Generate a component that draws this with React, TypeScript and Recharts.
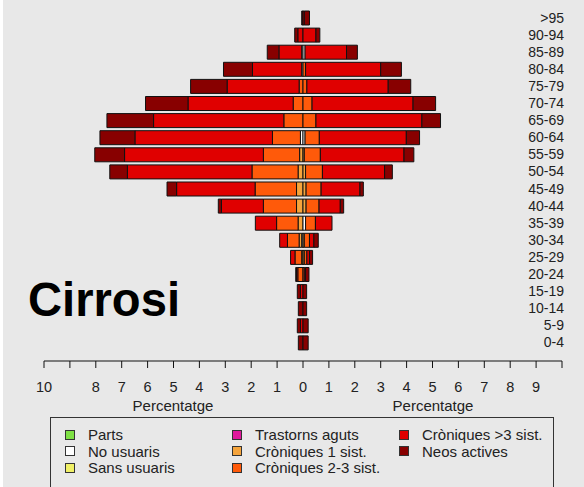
import React from "react";
import { BarChart, Bar, XAxis, YAxis, Legend } from "recharts";

// age groups, top to bottom
const ages = [">95", "90-94", "85-89", "80-84", "75-79", "70-74", "65-69", "60-64", "55-59", "50-54", "45-49", "40-44", "35-39", "30-34", "25-29", "20-24", "15-19", "10-14", "5-9", "0-4"];

const seriesKeys = ["parts", "noUsuaris", "sansUsuaris", "trastorns", "cron1", "cron23", "cron3", "neos"];
const seriesNames = ["Parts", "No usuaris", "Sans usuaris", "Trastorns aguts", "Cròniques 1 sist.", "Cròniques 2-3 sist.", "Cròniques >3 sist.", "Neos actives"];
const seriesColors = ["#7ee044", "#ffffff", "#f0f066", "#e0189c", "#f5a43c", "#ff5a0a", "#e00000", "#880000"];

// left side (percent), from the centre outwards
const leftParts = [0, 0, 0, 0, 0, 0, 0, 0, 0, 0, 0, 0, 0, 0, 0, 0, 0, 0, 0, 0];
const leftNoUsuaris = [0, 0, 0.05, 0.05, 0, 0, 0, 0.1, 0, 0, 0, 0, 0, 0.05, 0, 0, 0, 0, 0, 0];
const leftSansUsuaris = [0, 0, 0, 0, 0, 0, 0, 0, 0, 0, 0, 0, 0, 0, 0, 0, 0, 0, 0, 0];
const leftTrastorns = [0, 0, 0, 0, 0, 0, 0, 0, 0, 0, 0, 0, 0, 0, 0, 0, 0, 0, 0, 0];
const leftCron1 = [0, 0, 0, 0, 0, 0, 0, 0, 0.13, 0.19, 0.25, 0.25, 0.19, 0.1, 0.05, 0, 0, 0, 0, 0];
const leftCron23 = [0, 0, 0, 0, 0.15, 0.38, 0.74, 1.08, 1.4, 1.78, 1.6, 1.28, 0.83, 0.45, 0.26, 0.2, 0, 0, 0, 0];
const leftCron3 = [0, 0.2, 0.88, 1.9, 2.78, 4.06, 5.03, 5.31, 5.36, 4.81, 3.03, 1.62, 0.82, 0.3, 0.17, 0.05, 0.1, 0, 0.1, 0];
const leftNeos = [0.05, 0.12, 0.45, 1.12, 1.41, 1.64, 1.8, 1.35, 1.15, 0.68, 0.37, 0.12, 0, 0, 0, 0.03, 0.12, 0.18, 0.12, 0.18];

// right side (percent), from the centre outwards
const rightParts = [0, 0, 0, 0, 0, 0, 0, 0, 0, 0, 0, 0, 0, 0, 0, 0, 0, 0, 0, 0];
const rightNoUsuaris = [0, 0, 0.08, 0, 0, 0, 0, 0.08, 0, 0, 0, 0, 0.1, 0, 0, 0, 0, 0, 0, 0];
const rightSansUsuaris = [0, 0, 0, 0, 0, 0, 0, 0, 0, 0, 0, 0, 0, 0, 0, 0, 0, 0, 0, 0];
const rightTrastorns = [0, 0, 0, 0, 0, 0, 0, 0, 0, 0, 0, 0, 0, 0, 0, 0, 0, 0, 0, 0];
const rightCron1 = [0, 0, 0, 0, 0, 0, 0, 0, 0.05, 0.1, 0.12, 0.12, 0, 0.05, 0.05, 0, 0, 0, 0, 0];
const rightCron23 = [0, 0, 0, 0.1, 0.15, 0.35, 0.5, 0.55, 0.62, 0.65, 0.58, 0.5, 0.38, 0.2, 0.1, 0.05, 0, 0, 0, 0];
const rightCron3 = [0.05, 0.5, 1.6, 2.9, 3.14, 3.9, 4.09, 3.36, 3.23, 2.4, 1.5, 0.82, 0.64, 0.17, 0.1, 0.05, 0, 0, 0, 0];
const rightNeos = [0.2, 0.15, 0.42, 0.8, 0.87, 0.87, 0.72, 0.51, 0.38, 0.3, 0.13, 0.13, 0, 0.17, 0.12, 0.13, 0.14, 0.14, 0.2, 0.2];

const xTicks = [-10, -9, -8, -7, -6, -5, -4, -3, -2, -1, 0, 1, 2, 3, 4, 5, 6, 7, 8, 9, 10];
const xTickLabels = ["10", "", "8", "7", "6", "5", "4", "3", "2", "1", "0", "1", "2", "3", "4", "5", "6", "7", "8", "9", ""];

const leftSeries = [leftParts, leftNoUsuaris, leftSansUsuaris, leftTrastorns, leftCron1, leftCron23, leftCron3, leftNeos];
const rightSeries = [rightParts, rightNoUsuaris, rightSansUsuaris, rightTrastorns, rightCron1, rightCron23, rightCron3, rightNeos];

const data = ages.map((age, i) => {
  const row: Record<string, string | number> = { age };
  seriesKeys.forEach((k, s) => {
    row["L_" + k] = -leftSeries[s][i];
    row["R_" + k] = rightSeries[s][i];
  });
  return row;
});

const FONT = "'Liberation Sans', Arial, sans-serif";

const AgeTick = (props: any) => (
  <text x={564} y={props.y} textAnchor="end" dominantBaseline="central" fontSize={14} fontFamily={FONT} fill="#222">
    {props.payload.value}
  </text>
);

const LegendBox = () => {
  const cols = [0, 1, 2].map((c) => seriesNames.map((n, i) => ({ n, i })).slice(c * 3, c * 3 + 3));
  const colX = [14, 181, 348];
  return (
    <div style={{ position: "relative", width: 504, height: 80, border: "1px solid #333", boxSizing: "border-box", fontFamily: FONT, fontSize: 15, color: "#222" }}>
      {cols.map((items, c) =>
        items.map(({ n, i }, r) => (
          <div key={n} style={{ position: "absolute", left: colX[c], top: 8 + r * 16.5, height: 17, display: "flex", alignItems: "center", whiteSpace: "nowrap" }}>
            <span style={{ display: "inline-block", width: 8, height: 8, background: seriesColors[i], border: "1px solid #333", marginRight: 13 }} />
            {n}
          </div>
        ))
      )}
    </div>
  );
};

export default function App() {
  return (
    <div style={{ position: "absolute", left: 0, top: 0, width: 584, height: 487, background: "#e8e8e8", overflow: "hidden" }}>
      <div style={{ position: "absolute", left: 0, top: 0, width: 3, height: 487, background: "#fff" }} />
      <BarChart
        width={584}
        height={487}
        data={data}
        layout="vertical"
        stackOffset="sign"
        barSize={14}
        margin={{ top: 9, right: 0, left: 44, bottom: 86 }}
      >
        <XAxis
          type="number"
          domain={[-10, 10]}
          ticks={xTicks}
          interval={0}
          height={40}
          tickSize={7}
          tickMargin={14}
          tickFormatter={(v: number) => xTickLabels[v + 10]}
          axisLine={{ stroke: "#111" }}
          tickLine={{ stroke: "#111" }}
          tick={{ fill: "#222", fontSize: 14.5, fontFamily: FONT }}
        />
        <YAxis
          type="category"
          dataKey="age"
          orientation="right"
          width={22}
          interval={0}
          axisLine={false}
          tickLine={false}
          padding={{ top: 0, bottom: 10 }}
          tick={<AgeTick />}
        />
        <Legend
          layout="horizontal"
          verticalAlign="middle"
          align="center"
          content={<LegendBox />}
          wrapperStyle={{ position: "absolute", left: 50, top: 417, width: 504 }}
        />
        {seriesKeys.map((k, s) => (
          <Bar key={"L_" + k} dataKey={"L_" + k} stackId="a" fill={seriesColors[s]} stroke="#111" strokeWidth={1} isAnimationActive={false} legendType="none" />
        ))}
        {seriesKeys.map((k, s) => (
          <Bar key={"R_" + k} dataKey={"R_" + k} stackId="a" fill={seriesColors[s]} stroke="#111" strokeWidth={1} isAnimationActive={false} legendType="none" />
        ))}
      </BarChart>
      <svg width={584} height={487} style={{ position: "absolute", left: 0, top: 0, pointerEvents: "none" }}>
        <text x={28} y={316} fontSize={48} fontWeight="bold" fontFamily={FONT} fill="#000" textLength={152} lengthAdjust="spacingAndGlyphs">
          Cirrosi
        </text>
        <text x={173} y={405} textAnchor="middle" dominantBaseline="central" fontSize={15} fontFamily={FONT} fill="#222">
          Percentatge
        </text>
        <text x={433} y={405} textAnchor="middle" dominantBaseline="central" fontSize={15} fontFamily={FONT} fill="#222">
          Percentatge
        </text>
      </svg>
    </div>
  );
}
